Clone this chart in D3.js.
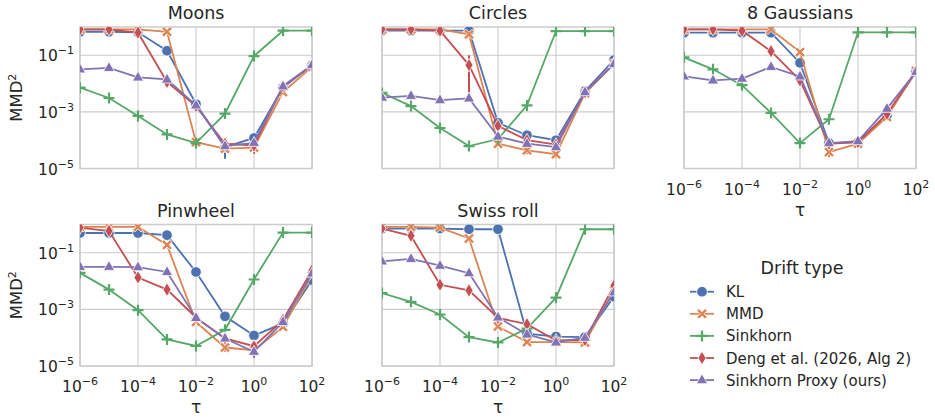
<!DOCTYPE html>
<html>
<head>
<meta charset="utf-8">
<script src="https://cdn.jsdelivr.net/npm/d3@7"></script>
<style>
  body { margin: 0; background: #fff; }
  text { font-family: "DejaVu Sans", sans-serif; fill: #262626; }
</style>
</head>
<body>
<svg id="chart" width="935" height="419"></svg>
<script>
// data
var tau = [1e-6, 1e-5, 1e-4, 1e-3, 1e-2, 1e-1, 1, 10, 100];
var seriesNames = ['KL', 'MMD', 'Sinkhorn', 'Deng et al. (2026, Alg 2)', 'Sinkhorn Proxy (ours)'];
var datasetNames = ['Moons', 'Circles', '8 Gaussians', 'Pinwheel', 'Swiss roll'];
var xTickValues = [1e-6, 1e-4, 1e-2, 1, 100];
var yTickValues = [1e-5, 1e-3, 1e-1];

// rows: KL, MMD, Sinkhorn, Deng, Sinkhorn Proxy
var moons = [
    [0.68, 0.68, 0.65, 0.145, 1.9e-3, 5.7e-5, 1.2e-4, 7.3e-3, 0.045],
    [0.83, 0.83, 0.83, 0.68, 8.5e-5, 5e-5, 5.5e-5, 5e-3, 0.039],
    [7.2e-3, 3.1e-3, 7.2e-4, 1.6e-4, 7.9e-5, 8.7e-4, 0.094, 0.74, 0.74],
    [0.83, 0.83, 0.63, 0.0115, 1.6e-3, 7.5e-5, 6.5e-5, 8.1e-3, 0.045],
    [0.032, 0.036, 0.0165, 0.014, 1.7e-3, 6.2e-5, 8.1e-5, 8e-3, 0.045]
];
var circles = [
    [0.74, 0.74, 0.74, 0.74, 4.1e-4, 1.5e-4, 1e-4, 5.5e-3, 0.068],
    [0.83, 0.83, 0.83, 0.55, 7.5e-5, 4.4e-5, 3.2e-5, 4.5e-3, 0.049],
    [4.7e-3, 1.6e-3, 2.7e-4, 6.2e-5, 1.1e-4, 1.7e-3, 0.72, 0.72, 0.72],
    [0.83, 0.83, 0.74, 0.045, 3.2e-4, 1e-4, 7e-5, 5e-3, 0.052],
    [3.2e-3, 3.7e-3, 2.6e-3, 3e-3, 1.35e-4, 7.5e-5, 5.7e-5, 5e-3, 0.049]
];
var gaussians8 = [
    [0.63, 0.63, 0.63, 0.63, 0.054, 7.9e-5, 8.5e-5, 7.6e-4, 0.026],
    [0.83, 0.83, 0.83, 0.83, 0.13, 3.8e-5, 7.5e-5, 6.6e-4, 0.028],
    [0.084, 0.032, 8.8e-3, 9.2e-4, 7.9e-5, 5.5e-4, 0.65, 0.65, 0.65],
    [0.83, 0.83, 0.74, 0.14, 0.013, 7.5e-5, 8.5e-5, 8.5e-4, 0.028],
    [0.018, 0.013, 0.015, 0.039, 0.018, 7.9e-5, 9.3e-5, 1.3e-3, 0.026]
];
var pinwheel = [
    [0.5, 0.5, 0.5, 0.42, 0.021, 5.7e-4, 1.2e-4, 3.2e-4, 0.0108],
    [0.83, 0.83, 0.83, 0.19, 3.6e-4, 4.5e-5, 3.6e-5, 2.4e-4, 0.016],
    [0.0195, 5e-3, 9.4e-4, 8.7e-5, 5.1e-5, 1.9e-4, 0.0114, 0.52, 0.52],
    [0.78, 0.59, 0.0134, 5e-3, 5.2e-4, 9.4e-5, 5e-5, 4.2e-4, 0.024],
    [0.032, 0.032, 0.031, 0.021, 5e-4, 9.4e-5, 3.2e-5, 3.6e-4, 0.0185]
];
var swissRoll = [
    [0.72, 0.72, 0.72, 0.68, 0.68, 1.4e-4, 1.1e-4, 1.05e-4, 2.8e-3],
    [0.83, 0.83, 0.78, 0.32, 2.5e-4, 7e-5, 7e-5, 6.8e-5, 4.8e-3],
    [3.8e-3, 1.85e-3, 6.6e-4, 1.05e-4, 6.8e-5, 2.1e-4, 2.6e-3, 0.68, 0.68],
    [0.72, 0.4, 7.4e-3, 4.7e-3, 5e-4, 3e-4, 8e-5, 8.3e-5, 6.9e-3],
    [0.05, 0.061, 0.035, 0.019, 5.2e-4, 1.3e-4, 6.8e-5, 1e-4, 4e-3]
];
// [dataset, series, tau index, low, high]
var errorBars = [
    [0, 0, 5, 2.2e-5, 8e-5],
    [0, 3, 6, 3.3e-5, 9e-5],
    [1, 3, 3, 4e-3, 0.1],
    [1, 1, 5, 3.2e-5, 6e-5],
    [1, 1, 6, 2.4e-5, 4.2e-5],
    [2, 1, 5, 2.5e-5, 5.5e-5],
    [3, 4, 6, 1.9e-5, 5e-5],
    [3, 1, 5, 3.2e-5, 6e-5],
    [4, 3, 5, 2.2e-4, 4e-4],
    [4, 4, 6, 5e-5, 9e-5]
];
var allData = [moons, circles, gaussians8, pinwheel, swissRoll];

var colors = ['#4c72b0', '#dd8452', '#55a868', '#c44e52', '#8172b3'];
var markerPaths = [
    d3.symbol().type(d3.symbolCircle).size(88)(),
    'M-5.2,-3.1L-3.1,-5.2L0,-2.1L3.1,-5.2L5.2,-3.1L2.1,0L5.2,3.1L3.1,5.2L0,2.1L-3.1,5.2L-5.2,3.1L-2.1,0Z',
    'M-5.5,0L5.5,0M0,-5.5L0,5.5',
    'M0,-6.8L4,0L0,6.8L-4,0Z',
    'M0,-6.3L5.6,3.6L-5.6,3.6Z'
];

var svg = d3.select('#chart');
var defs = svg.append('defs');

// grid layout
var colLeft = [80, 382, 684];
var rowTop = [27, 224.5];
var pw = 232, ph = 141.5;
var layout = [
    {col: 0, row: 0, xlab: false, ylab: true},
    {col: 1, row: 0, xlab: false, ylab: false},
    {col: 2, row: 0, xlab: true, ylab: false},
    {col: 0, row: 1, xlab: true, ylab: true},
    {col: 1, row: 1, xlab: true, ylab: false}
];

function powerLabel(sel, v) {
    var e = Math.round(Math.log10(v));
    sel.append('tspan').text('10');
    sel.append('tspan')
        .attr('dy', -7)
        .attr('font-size', 11)
        .text(e < 0 ? '\u2212' + (-e) : String(e));
}

function drawMarker(g, k, x, y) {
    var p = g.append('path')
        .attr('d', markerPaths[k])
        .attr('transform', 'translate(' + x + ',' + y + ')');
    if (k === 2) {
        p.attr('fill', 'none').attr('stroke', colors[k]).attr('stroke-width', 2.2);
    } else {
        p.attr('fill', colors[k]).attr('stroke', '#fff').attr('stroke-width', 0.8);
    }
}

layout.forEach(function(L, pi) {
    var left = colLeft[L.col], top = rowTop[L.row];
    var x = d3.scaleLog().domain([1e-6, 1e2]).range([left, left + pw]);
    var y = d3.scaleLog().domain([1e-5, 1]).range([top + ph, top]);
    var g = svg.append('g');

    // gridlines
    g.selectAll('.gx').data(xTickValues).enter().append('line')
        .attr('x1', function(d) { return x(d); }).attr('x2', function(d) { return x(d); })
        .attr('y1', top).attr('y2', top + ph)
        .attr('stroke', '#cccccc').attr('stroke-width', 1.1);
    g.selectAll('.gy').data(yTickValues).enter().append('line')
        .attr('x1', left).attr('x2', left + pw)
        .attr('y1', function(d) { return y(d); }).attr('y2', function(d) { return y(d); })
        .attr('stroke', '#cccccc').attr('stroke-width', 1.1);

    // frame
    g.append('rect')
        .attr('x', left).attr('y', top).attr('width', pw).attr('height', ph)
        .attr('fill', 'none').attr('stroke', '#cccccc').attr('stroke-width', 1.5);

    // title
    g.append('text')
        .attr('x', left + pw / 2).attr('y', top - 8)
        .attr('text-anchor', 'middle').attr('font-size', 17.5)
        .text(datasetNames[pi]);

    if (L.ylab) {
        yTickValues.forEach(function(v) {
            var t = g.append('text')
                .attr('x', left - 6).attr('y', y(v) + 6)
                .attr('text-anchor', 'end').attr('font-size', 15.5);
            powerLabel(t, v);
        });
        var yl = g.append('text')
            .attr('transform', 'translate(' + (left - 58) + ',' + (top + ph / 2) + ') rotate(-90)')
            .attr('text-anchor', 'middle').attr('font-size', 16.5);
        yl.append('tspan').text('MMD');
        yl.append('tspan').attr('dy', -6).attr('font-size', 11).text('2');
    }
    if (L.xlab) {
        xTickValues.forEach(function(v) {
            var t = g.append('text')
                .attr('x', x(v)).attr('y', top + ph + 26)
                .attr('text-anchor', 'middle').attr('font-size', 15.5);
            powerLabel(t, v);
        });
        g.append('text')
            .attr('x', left + pw / 2).attr('y', top + ph + 47)
            .attr('text-anchor', 'middle').attr('font-size', 17)
            .text('\u03c4');
    }

    // clip region
    var cid = 'clip' + pi;
    defs.append('clipPath').attr('id', cid).append('rect')
        .attr('x', left).attr('y', top).attr('width', pw).attr('height', ph);
    var plot = g.append('g').attr('clip-path', 'url(#' + cid + ')');

    var line = d3.line()
        .x(function(d, i) { return x(tau[i]); })
        .y(function(d) { return y(d); });

    allData[pi].forEach(function(vals, k) {
        var sg = plot.append('g');
        sg.append('path')
            .datum(vals)
            .attr('d', line)
            .attr('fill', 'none')
            .attr('stroke', colors[k])
            .attr('stroke-width', 1.8);
        errorBars.filter(function(e) { return e[0] === pi && e[1] === k; })
            .forEach(function(e) {
                sg.append('line')
                    .attr('x1', x(tau[e[2]])).attr('x2', x(tau[e[2]]))
                    .attr('y1', y(e[3])).attr('y2', y(e[4]))
                    .attr('stroke', colors[k]).attr('stroke-width', 2);
            });
        vals.forEach(function(v, i) {
            drawMarker(sg, k, x(tau[i]), y(v));
        });
    });
});

// legend
var leg = svg.append('g');
leg.append('text')
    .attr('x', 802).attr('y', 274)
    .attr('text-anchor', 'middle').attr('font-size', 17.5)
    .text('Drift type');
seriesNames.forEach(function(name, k) {
    var cy = 291.7 + k * 22.1;
    leg.append('line')
        .attr('x1', 690).attr('x2', 714).attr('y1', cy).attr('y2', cy)
        .attr('stroke', colors[k]).attr('stroke-width', 1.8);
    drawMarker(leg, k, 702, cy);
    leg.append('text')
        .attr('x', 726).attr('y', cy + 5.5)
        .attr('font-size', 15)
        .text(name);
});
</script>
</body>
</html>
